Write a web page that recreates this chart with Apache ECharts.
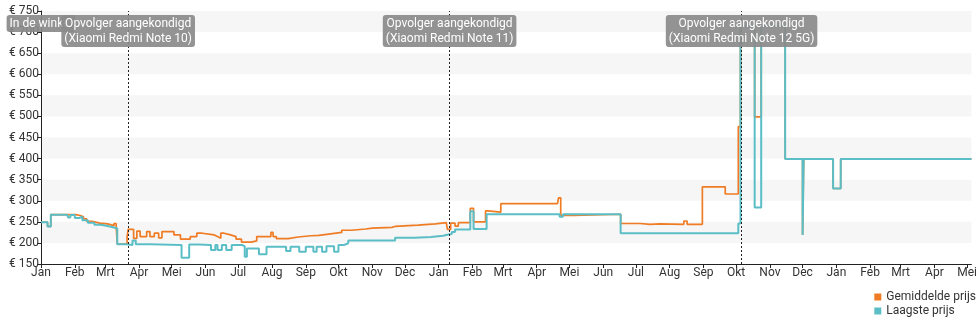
<!DOCTYPE html>
<html>
<head>
<meta charset="utf-8">
<script src="https://cdn.jsdelivr.net/npm/echarts@6/dist/echarts.min.js"></script>
<style>
  html, body { margin: 0; padding: 0; background: #fff; }
  #chart { width: 980px; height: 325px; }
</style>
</head>
<body>
<div id="chart"></div>
<script>
// Month names shown on the time axis
const monthNames = ['Jan', 'Feb', 'Mrt', 'Apr', 'Mei', 'Jun', 'Jul', 'Aug', 'Sep', 'Okt', 'Nov', 'Dec'];

// Price history: [date, price in euro]; each price holds until the next date
const gemiddeldePrijs = [
  ['2021-01-01', 249], ['2021-01-07', 239], ['2021-01-10', 267], ['2021-02-02', 265],
  ['2021-02-06', 262], ['2021-02-09', 257], ['2021-02-12', 251], ['2021-02-17', 247],
  ['2021-02-24', 245], ['2021-03-03', 241], ['2021-03-09', 246], ['2021-03-11', 240],
  ['2021-03-12', 197], ['2021-03-19', 197], ['2021-03-21', 215], ['2021-03-22', 232],
  ['2021-03-27', 211], ['2021-03-30', 228], ['2021-04-02', 215], ['2021-04-08', 227],
  ['2021-04-11', 215], ['2021-04-15', 223], ['2021-04-19', 212], ['2021-04-22', 227],
  ['2021-05-03', 219], ['2021-05-09', 209], ['2021-05-18', 215], ['2021-05-24', 223],
  ['2021-05-29', 219], ['2021-06-09', 215], ['2021-06-12', 211], ['2021-06-15', 223],
  ['2021-06-18', 219], ['2021-06-24', 215], ['2021-06-29', 209], ['2021-07-04', 202],
  ['2021-07-13', 205], ['2021-07-18', 215], ['2021-07-31', 225], ['2021-08-02', 215],
  ['2021-08-05', 210], ['2021-08-16', 214], ['2021-08-25', 217], ['2021-09-06', 218],
  ['2021-09-13', 221], ['2021-09-22', 225], ['2021-10-04', 230], ['2021-10-13', 233],
  ['2021-10-26', 235], ['2021-11-01', 237], ['2021-11-19', 239], ['2021-11-22', 242],
  ['2021-12-13', 245], ['2021-12-29', 248], ['2022-01-08', 250], ['2022-01-09', 232],
  ['2022-01-12', 247], ['2022-01-16', 240], ['2022-01-19', 248], ['2022-01-30', 282],
  ['2022-02-02', 250], ['2022-02-13', 276], ['2022-02-15', 273], ['2022-02-27', 293],
  ['2022-04-20', 294], ['2022-04-21', 307], ['2022-04-23', 265], ['2022-05-05', 268],
  ['2022-06-17', 246], ['2022-07-05', 244], ['2022-07-14', 240], ['2022-07-15', 245],
  ['2022-07-23', 241], ['2022-07-24', 244], ['2022-08-14', 252], ['2022-08-17', 244],
  ['2022-08-31', 333], ['2022-09-21', 316], ['2022-10-03', 476], ['2022-10-05', 714],
  ['2022-10-18', 499], ['2022-10-24', 714], ['2022-11-15', 399], ['2022-12-01', 219],
  ['2022-12-02', 399], ['2022-12-29', 329], ['2023-01-05', 399], ['2023-05-05', 399]
];

const laagstePrijs = [
  ['2021-01-01', 249], ['2021-01-07', 239], ['2021-01-10', 267], ['2021-01-25', 266],
  ['2021-01-26', 260], ['2021-01-28', 266], ['2021-02-01', 259], ['2021-02-05', 262],
  ['2021-02-08', 254], ['2021-02-13', 248], ['2021-02-19', 243], ['2021-02-25', 240],
  ['2021-03-03', 237], ['2021-03-08', 234], ['2021-03-12', 197], ['2021-03-21', 195],
  ['2021-03-26', 206], ['2021-03-29', 197], ['2021-04-11', 195], ['2021-05-10', 165],
  ['2021-05-17', 196], ['2021-05-26', 195], ['2021-06-06', 183], ['2021-06-10', 195],
  ['2021-06-12', 183], ['2021-06-16', 195], ['2021-06-20', 183], ['2021-06-25', 195],
  ['2021-07-05', 192], ['2021-07-07', 167], ['2021-07-09', 187], ['2021-07-20', 173],
  ['2021-07-27', 191], ['2021-08-14', 181], ['2021-08-18', 191], ['2021-08-26', 179],
  ['2021-09-01', 191], ['2021-09-08', 179], ['2021-09-11', 191], ['2021-09-16', 179],
  ['2021-09-20', 192], ['2021-09-27', 179], ['2021-10-01', 195], ['2021-10-06', 199],
  ['2021-10-10', 206], ['2021-11-22', 212], ['2021-12-10', 214], ['2021-12-25', 217],
  ['2022-01-05', 220], ['2022-01-10', 221], ['2022-01-13', 226], ['2022-01-16', 232],
  ['2022-01-30', 275], ['2022-02-02', 233], ['2022-02-14', 268], ['2022-04-22', 262],
  ['2022-04-25', 268], ['2022-06-17', 223], ['2022-10-01', 223], ['2022-10-03', 246],
  ['2022-10-05', 714], ['2022-10-18', 284], ['2022-10-24', 714], ['2022-11-15', 399],
  ['2022-12-01', 219], ['2022-12-02', 399], ['2022-12-29', 329], ['2023-01-05', 399],
  ['2023-05-05', 399]
];

// Events drawn as labelled markers along the timeline
const eventDates = ['2021-01-01', '2021-03-22', '2022-01-11', '2022-10-06'];
const eventLabels = [
  'In de winkel',
  'Opvolger aangekondigd\n(Xiaomi Redmi Note 10)',
  'Opvolger aangekondigd\n(Xiaomi Redmi Note 11)',
  'Opvolger aangekondigd\n(Xiaomi Redmi Note 12 5G)'
];

// Axis range and tick labels
const axisStart = '2021-01-01';
const axisEnd = '2023-05-05';
const priceMin = 150, priceMax = 750, priceStep = 50;

// Local-time timestamp for a YYYY-MM-DD string
function ts(s) {
  const p = s.split('-').map(Number);
  return new Date(p[0], p[1] - 1, p[2]).getTime();
}
function toPoints(rows) {
  return rows.map(function (r) { return [ts(r[0]), r[1]]; });
}

// First day of every month within the axis range
const monthTicks = [];
(function () {
  const end = ts(axisEnd);
  const d = new Date(ts(axisStart));
  while (d.getTime() <= end) {
    monthTicks.push(d.getTime());
    d.setMonth(d.getMonth() + 1);
  }
})();

const ORANGE = '#ef7c24';
const TEAL = '#5bbec6';
const FONT = 'Roboto';

const chart = echarts.init(document.getElementById('chart'), null, { renderer: 'canvas' });

chart.setOption({
  animation: false,
  textStyle: { fontFamily: FONT },
  grid: { left: 41, right: 5, top: 11, bottom: 61, containLabel: false },
  legend: {
    orient: 'vertical',
    right: 4,
    top: 290,
    align: 'left',
    icon: 'rect',
    itemWidth: 7,
    itemHeight: 7,
    itemGap: 0,
    padding: 0,
    data: ['Gemiddelde prijs', 'Laagste prijs'],
    textStyle: { fontFamily: FONT, fontSize: 12, color: '#333', lineHeight: 14 }
  },
  xAxis: {
    type: 'value',
    min: ts(axisStart),
    max: ts(axisEnd),
    axisLine: { show: true, onZero: false, lineStyle: { color: '#222', width: 1 } },
    axisTick: { show: true, length: 4, customValues: monthTicks, lineStyle: { color: '#222' } },
    axisLabel: {
      customValues: monthTicks,
      formatter: function (v) { return monthNames[new Date(v).getMonth()]; },
      fontFamily: FONT, fontSize: 12, color: '#333', margin: 3, hideOverlap: false
    },
    splitLine: { show: false }
  },
  yAxis: {
    type: 'value',
    min: priceMin,
    max: priceMax,
    interval: priceStep,
    axisLine: { show: true, lineStyle: { color: '#222', width: 1 } },
    axisTick: { show: true, length: 4, lineStyle: { color: '#222' } },
    axisLabel: { formatter: '€ {value}', fontFamily: FONT, fontSize: 12, color: '#333', margin: 2 },
    splitLine: { show: false },
    splitArea: { show: true, areaStyle: { color: ['rgba(255,255,255,0)', '#f6f6f6'] } }
  },
  series: [
    {
      // event labels, kept underneath the price lines
      type: 'line',
      name: 'gebeurtenissen',
      z: 1,
      data: [],
      silent: true,
      markPoint: {
        silent: true,
        symbol: 'rect',
        symbolSize: 0,
        label: {
          show: true,
          position: 'bottom',
          distance: 4,
          fontFamily: FONT,
          fontSize: 12,
          lineHeight: 15,
          color: '#fff',
          backgroundColor: 'rgba(138,138,138,0.92)',
          borderRadius: 3,
          padding: [1, 3, 1, 3],
          align: 'center'
        },
        data: eventDates.map(function (d, i) {
          return { coord: [ts(d), priceMax], value: i, label: { formatter: eventLabels[i] } };
        })
      }
    },
    {
      name: 'Gemiddelde prijs',
      type: 'line',
      z: 3,
      step: 'end',
      showSymbol: false,
      symbol: 'none',
      data: toPoints(gemiddeldePrijs),
      itemStyle: { color: ORANGE },
      lineStyle: { color: ORANGE, width: 1.7 }
    },
    {
      name: 'Laagste prijs',
      type: 'line',
      z: 4,
      step: 'end',
      showSymbol: false,
      symbol: 'none',
      data: toPoints(laagstePrijs),
      itemStyle: { color: TEAL },
      lineStyle: { color: TEAL, width: 2 }
    },
    {
      // dotted event lines on top
      type: 'line',
      name: 'lijnen',
      z: 5,
      data: [],
      silent: true,
      markLine: {
        silent: true,
        symbol: ['none', 'none'],
        label: { show: false },
        lineStyle: { color: '#222', type: [2, 2], width: 1 },
        emphasis: { disabled: true },
        data: eventDates.slice(1).map(function (d) { return { xAxis: ts(d) }; })
      }
    }
  ]
});
</script>
</body>
</html>
